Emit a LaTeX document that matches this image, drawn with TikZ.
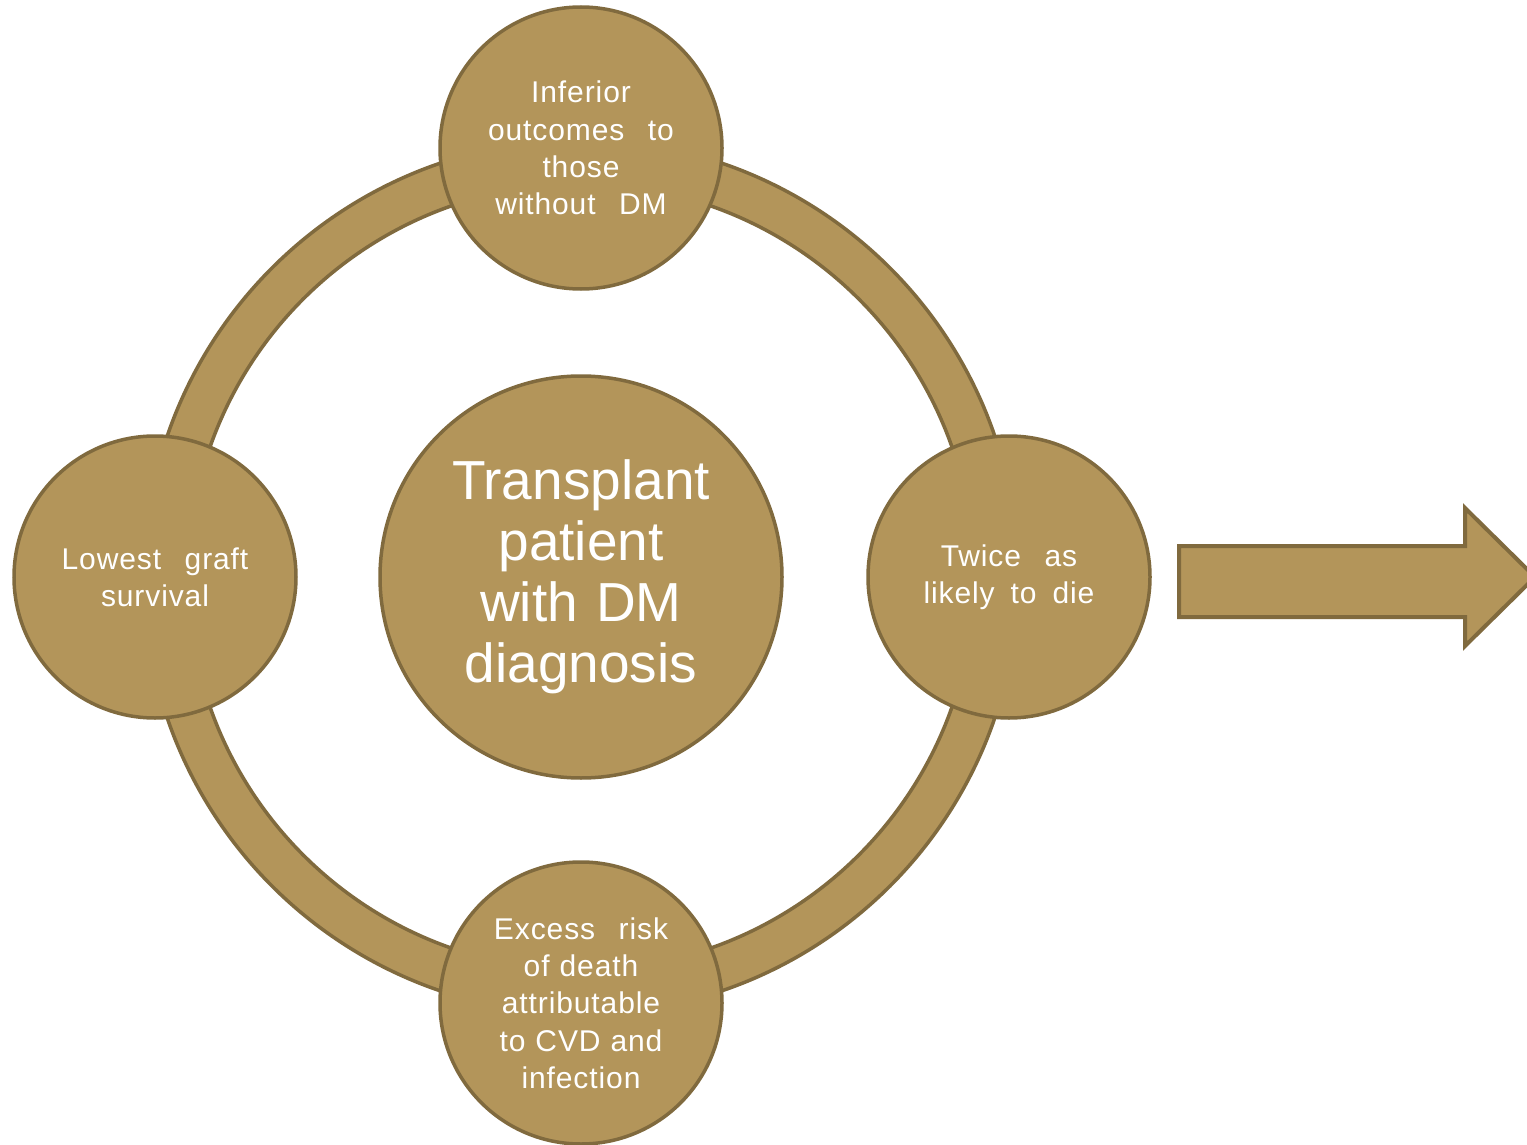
\documentclass[tikz,border=0pt]{standalone}
\usepackage{fontspec}
\setmainfont{Liberation Sans}
\newfontfamily\satfont[LetterSpace=3]{Liberation Sans}
\definecolor{tanfill}{HTML}{B3955A}
\definecolor{tanline}{HTML}{806A3E}
\newcommand{\ws}{\hspace{0.45em}}
\newcommand{\wsn}{\hspace{0.2em}}
\begin{document}
\begin{tikzpicture}[x=1pt,y=-1pt,
  blob/.style={circle, draw=tanline, fill=tanfill, line width=3.5pt, inner sep=0pt, align=center, text=white},
  sat/.style={blob, minimum size=282pt, text width=200pt, font=\satfont\fontsize{30}{37.3}\selectfont},
  hub/.style={blob, minimum size=402pt, text width=300pt, font=\fontsize{55}{61}\selectfont},
  ring/.style={draw=tanline, fill=tanfill, line width=3.5pt, even odd rule},
  bigarrow/.style={draw=tanline, fill=tanfill, line width=4pt, line join=miter}]
\useasboundingbox (0,0) rectangle (1527,1145);
\coordinate (c) at (581,577);
\fill[white] (0,0) rectangle (1527,1145);
\draw[ring] (c) circle[radius=437] (c) circle[radius=393];
\node[hub] (hub) at (c) {\raisebox{-3pt}{\parbox{300pt}{\centering Transplant\\patient\\with DM\\diagnosis}}};
\node[sat] (top) at (581,148) {Inferior\\outcomes\ws{} to\\those\\without\ws{} DM};
\node[sat] (left) at (155,577) {Lowest\ws{} graft\\survival};
\node[sat] (right) at (1009,577) {Twice\ws{} as\\likely\wsn{} to\wsn{} die};
\node[sat] (bottom) at (581,1003) {Excess\ws{} risk\\of death\\attributable\\to CVD and\\infection};
\draw[bigarrow] (1179,546) -- (1465,546) -- (1465,508) -- (1535,577) -- (1465,646) -- (1465,617) -- (1179,617) -- cycle;
\end{tikzpicture}
\end{document}
